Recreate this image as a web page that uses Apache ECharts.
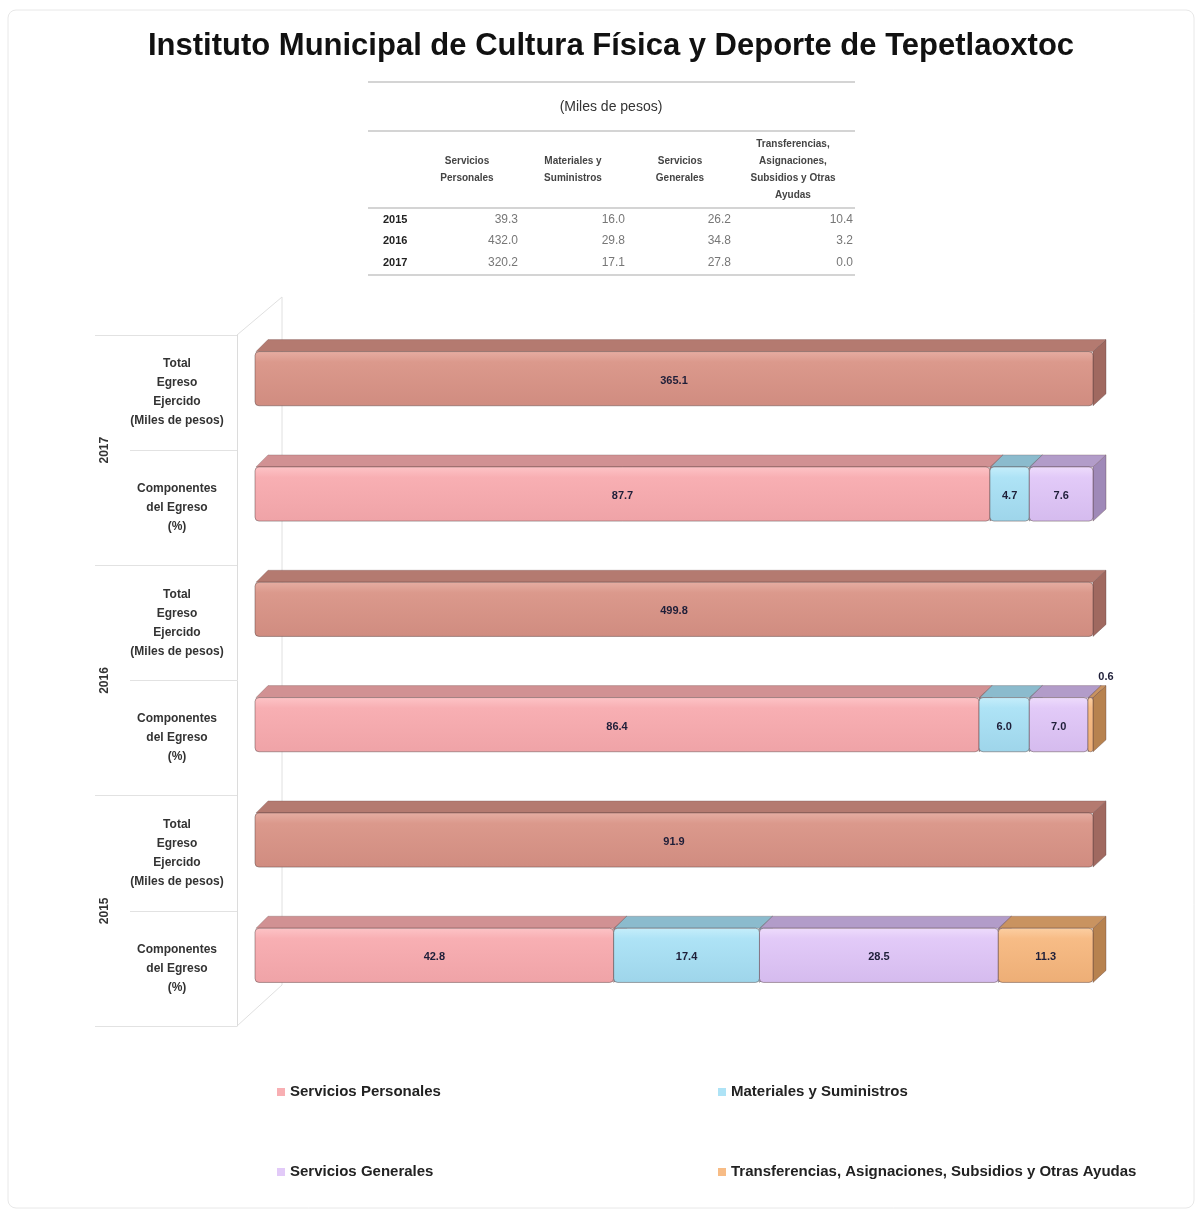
<!DOCTYPE html>
<html>
<head>
<meta charset="utf-8">
<title>Instituto Municipal de Cultura Física y Deporte de Tepetlaoxtoc</title>
<script src="https://cdn.jsdelivr.net/npm/echarts@6/dist/echarts.min.js"></script>
<style>
  html, body { margin: 0; padding: 0; background: #fff; }
  #main { width: 1200px; height: 1213px; }
</style>
</head>
<body>
<div id="main"></div>
<script>
// datos
var years = ['2015', '2016', '2017'];
var rowLabels = ['Componentes\ndel Egreso\n(%)', 'Total\nEgreso\nEjercido\n(Miles de pesos)'];
var seriesNames = ['Servicios Personales', 'Materiales y Suministros', 'Servicios Generales',
    'Transferencias, Asignaciones, Subsidios y Otras Ayudas'];
var pctPersonales = [42.8, 86.4, 87.7];
var pctMateriales = [17.4, 6.0, 4.7];
var pctGenerales = [28.5, 7.0, 7.6];
var pctTransferencias = [11.3, 0.6, 0.0];
var totalEgreso = [91.9, 499.8, 365.1];

// tabla (Miles de pesos)
var tableTitle = '(Miles de pesos)';
var tableHeaders = ['Servicios\nPersonales', 'Materiales y\nSuministros', 'Servicios\nGenerales',
    'Transferencias,\nAsignaciones,\nSubsidios y Otras\nAyudas'];
var milesPersonales = [39.3, 432.0, 320.2];
var milesMateriales = [16.0, 29.8, 17.1];
var milesGenerales = [26.2, 34.8, 27.8];
var milesTransferencias = [10.4, 3.2, 0.0];

var arial = '"Liberation Sans", Arial, sans-serif';

// colores: frente (3 tonos), tapa, lado
var palette = [
    ['#FDC4C7', '#F8AFB3', '#EFA3A7', '#D19193', '#C08184'],
    ['#C6EEFB', '#AEE3F6', '#9ED5EA', '#8BBBCD', '#7AA9BB'],
    ['#EEDCFC', '#E2CAF8', '#D5BBEE', '#B29CC9', '#9F89B8'],
    ['#FCCFA3', '#F7BC86', '#EDAE76', '#C99360', '#B7824F']
];
var paletteTotal = ['#E6AEA3', '#DB998C', '#D08C80', '#B47A70', '#A06960'];

var DX = 13, DY = 12;

function makeRender(col) {
    return function (params, api) {
        var v = api.value(2) - api.value(1);
        if (v <= 0) return;
        var a = api.coord([api.value(1), api.value(0)]);
        var b = api.coord([api.value(2), api.value(0)]);
        var h = api.size([0, 1])[1] * 0.47;
        var x0 = a[0], x1 = b[0], y0 = a[1] - h / 2, y1 = a[1] + h / 2;
        var lbl = api.value(3).toFixed(1);
        var wide = (x1 - x0) > 22;
        return {
            type: 'group',
            children: [
                {
                    type: 'polygon',
                    shape: { points: [[x1, y0], [x1 + DX, y0 - DY], [x1 + DX, y1 - DY], [x1, y1]] },
                    style: { fill: col[4], stroke: 'rgba(90,60,60,0.35)', lineWidth: 1 }
                },
                {
                    type: 'polygon',
                    shape: { points: [[x0 + 1, y0], [x0 + DX, y0 - DY], [x1 + DX, y0 - DY], [x1, y0]] },
                    style: { fill: col[3], stroke: 'rgba(90,60,60,0.25)', lineWidth: 1 }
                },
                {
                    type: 'rect',
                    shape: { x: x0, y: y0, width: x1 - x0, height: h, r: 4 },
                    style: {
                        fill: new echarts.graphic.LinearGradient(0, 0, 0, 1, [
                            { offset: 0, color: col[0] },
                            { offset: 0.2, color: col[1] },
                            { offset: 1, color: col[2] }
                        ]),
                        stroke: 'rgba(80,60,60,0.45)', lineWidth: 1
                    }
                },
                {
                    type: 'text',
                    x: wide ? (x0 + x1) / 2 : x1 + DX,
                    y: wide ? (y0 + y1) / 2 + 2 : y0 - DY - 9,
                    style: {
                        text: lbl, fill: '#1E1E38', align: 'center', verticalAlign: 'middle',
                        font: 'bold 11px ' + arial
                    }
                }
            ]
        };
    };
}

// cada categoria se normaliza a 100 % (barra apilada al 100 %)
var compArrays = [pctPersonales, pctMateriales, pctGenerales, pctTransferencias];
var compData = [[], [], [], []];
for (var y = 0; y < years.length; y++) {
    var sum = 0;
    for (var k = 0; k < compArrays.length; k++) sum += compArrays[k][y];
    var acc = 0;
    for (var k2 = 0; k2 < compArrays.length; k2++) {
        var share = compArrays[k2][y] / sum * 100;
        compData[k2].push([y * 2, acc, acc + share, compArrays[k2][y]]);
        acc += share;
    }
}
var totalData = [];
for (var t = 0; t < years.length; t++) {
    totalData.push([t * 2 + 1, 0, totalEgreso[t] / totalEgreso[t] * 100, totalEgreso[t]]);
}

var catRows = [];
for (var r = 0; r < years.length; r++) { catRows.push(rowLabels[0]); catRows.push(rowLabels[1]); }

var series = [];
series.push({
    name: 'Total Egreso Ejercido', type: 'custom', renderItem: makeRender(paletteTotal),
    xAxisIndex: 0, yAxisIndex: 0, encode: { x: [1, 2], y: 0 },
    itemStyle: { color: paletteTotal[1] }, data: totalData, z: 3
});
for (var s = 0; s < seriesNames.length; s++) {
    series.push({
        name: seriesNames[s], type: 'custom', renderItem: makeRender(palette[s]),
        xAxisIndex: 0, yAxisIndex: 0, encode: { x: [1, 2], y: 0 },
        itemStyle: { color: palette[s][1] }, data: compData[s], z: 3
    });
}
// serie vacia para que la rejilla de etiquetas tenga datos
series.push({ type: 'bar', xAxisIndex: 1, yAxisIndex: 1, data: [], silent: true });

// tabla como texto
var graphic = [];
graphic.push({ type: 'rect', z: 0, shape: { x: 8, y: 10, width: 1186, height: 1198, r: 8 },
    style: { fill: 'none', stroke: '#e8e8e8', lineWidth: 1 } });
var tableX0 = 368, tableX1 = 855;
[82, 131, 208, 275].forEach(function (ly) {
    graphic.push({ type: 'line', shape: { x1: tableX0, y1: ly, x2: tableX1, y2: ly },
        style: { stroke: '#d4d4d4', lineWidth: 2 } });
});
graphic.push({ type: 'text', x: 611, y: 107, style: { text: tableTitle, align: 'center',
    verticalAlign: 'middle', font: '14px ' + arial, fill: '#333' } });
var colCenters = [467, 573, 680, 793];
var colRights = [518, 625, 731, 853];
var rowYs = [220, 241, 263];
var tableCols = [milesPersonales, milesMateriales, milesGenerales, milesTransferencias];
for (var c = 0; c < tableHeaders.length; c++) {
    graphic.push({ type: 'text', x: colCenters[c], y: 170, style: { text: tableHeaders[c],
        align: 'center', verticalAlign: 'middle', lineHeight: 17,
        font: 'bold 10px ' + arial, fill: '#444' } });
    for (var rr = 0; rr < years.length; rr++) {
        graphic.push({ type: 'text', x: colRights[c], y: rowYs[rr], style: {
            text: tableCols[c][rr].toFixed(1), align: 'right', verticalAlign: 'middle',
            font: '12px ' + arial, fill: '#777' } });
    }
}
for (var yr = 0; yr < years.length; yr++) {
    graphic.push({ type: 'text', x: 383, y: rowYs[yr], style: { text: years[yr], align: 'left',
        verticalAlign: 'middle', font: 'bold 11px ' + arial, fill: '#222' } });
}
// pared del fondo 3D
graphic.push({ type: 'polyline', z: 0, shape: { points: [[237, 335], [282, 297], [282, 985], [237, 1026]] },
    style: { stroke: '#e0e0e0', lineWidth: 1, fill: 'none' } });

var myChart = echarts.init(document.getElementById('main'));
var option = {
    animation: false,
    backgroundColor: '#fff',
    title: {
        text: 'Instituto Municipal de Cultura Física y Deporte de Tepetlaoxtoc',
        left: 606, top: 26, textAlign: 'center',
        textStyle: { fontSize: 31, fontWeight: 'bold', color: '#111', fontFamily: arial }
    },
    legend: [
        {
            data: [seriesNames[0], seriesNames[2]], orient: 'vertical', left: 272, top: 1078,
            itemWidth: 8, itemHeight: 8, itemGap: 62, icon: 'rect',
            textStyle: { fontSize: 15, fontWeight: 'bold', color: '#222', fontFamily: arial, lineHeight: 18 }
        },
        {
            data: [seriesNames[1], seriesNames[3]], orient: 'vertical', left: 713, top: 1078,
            itemWidth: 8, itemHeight: 8, itemGap: 62, icon: 'rect',
            textStyle: { fontSize: 15, fontWeight: 'bold', color: '#222', fontFamily: arial, lineHeight: 18 }
        }
    ],
    grid: [
        { left: 255, right: 107, top: 321, height: 692 },
        { left: 237, width: 10, top: 335, height: 691 }
    ],
    xAxis: [
        { type: 'value', min: 0, max: 100, show: false, gridIndex: 0 },
        { type: 'value', show: false, gridIndex: 1 }
    ],
    yAxis: [
        { type: 'category', data: catRows, show: false, gridIndex: 0 },
        {
            type: 'category', data: catRows, gridIndex: 1, position: 'left',
            axisLine: { show: true, lineStyle: { color: '#dcdcdc' } },
            axisTick: { show: true, length: 107, lineStyle: { color: '#e2e2e2' } },
            axisLabel: { margin: 60, align: 'center', verticalAlign: 'middle', lineHeight: 19,
                fontSize: 12, fontWeight: 'bold', color: '#333', fontFamily: arial },
            splitLine: { show: false }
        },
        {
            type: 'category', data: years, gridIndex: 1, position: 'left',
            axisLine: { show: false },
            axisTick: { show: true, length: 142, lineStyle: { color: '#e2e2e2' } },
            axisLabel: { margin: 132, rotate: 90, align: 'center', verticalAlign: 'middle',
                fontSize: 12, fontWeight: 'bold', color: '#333', fontFamily: arial },
            splitLine: { show: false }
        }
    ],
    graphic: graphic,
    series: series
};
myChart.setOption(option);
</script>
</body>
</html>
